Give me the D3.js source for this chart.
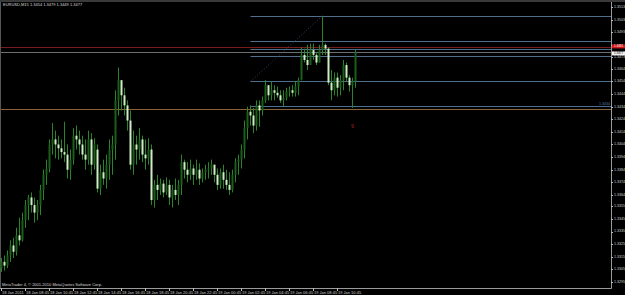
<!DOCTYPE html>
<html><head><meta charset="utf-8">
<script src="https://cdn.jsdelivr.net/npm/d3@7"></script>
<style>html,body{margin:0;padding:0;background:#000;overflow:hidden}</style>
</head><body>
<svg id="c" width="625" height="295"></svg>
<script>
// ---- data (EURUSD M15, 18-19 Jan 2011) ----
const symbolTitle = "EURUSD,M15";
const timeLabels = ["18 Jan 2011","18 Jan 08:45","18 Jan 10:45","18 Jan 12:45","18 Jan 14:45","18 Jan 16:45","18 Jan 18:45","18 Jan 20:45","18 Jan 22:45","19 Jan 00:45","19 Jan 02:45","19 Jan 04:45","19 Jan 06:45","19 Jan 08:45","19 Jan 10:45"];
const timeLabelBars = [0,8,16,24,32,40,48,56,64,72,80,88,96,104,112];
const priceTicks = [1.3513,1.3503,1.3493,1.3483,1.3473,1.3464,1.3454,1.3444,1.3434,1.3424,1.3414,1.3404,1.3394,1.3384,1.3374,1.3364,1.3355,1.3345,1.3335,1.3325,1.3315,1.3305,1.3295];
const opens = [1.3306,1.3311,1.3308,1.3316,1.3324,1.3319,1.3332,1.3328,1.3344,1.3356,1.3362,1.3356,1.3350,1.3356,1.3368,1.3380,1.3385,1.3404,1.3408,1.3404,1.3401,1.3398,1.3396,1.3384,1.3392,1.3411,1.3408,1.3404,1.3396,1.3392,1.3408,1.3388,1.3400,1.3369,1.3382,1.3377,1.3388,1.3400,1.3404,1.3439,1.3455,1.3443,1.3435,1.3423,1.3388,1.3404,1.3400,1.3408,1.3396,1.3393,1.3400,1.3360,1.3372,1.3368,1.3373,1.3366,1.3372,1.3362,1.3368,1.3364,1.3372,1.3390,1.3384,1.3380,1.3385,1.3380,1.3384,1.3377,1.3382,1.3384,1.3385,1.3388,1.3380,1.3372,1.3382,1.3376,1.3372,1.3368,1.3380,1.3390,1.3392,1.3400,1.3417,1.3430,1.3427,1.3419,1.3435,1.3431,1.3439,1.3451,1.3443,1.3447,1.3445,1.3443,1.3439,1.3441,1.3446,1.3447,1.3445,1.3450,1.3455,1.3475,1.3471,1.3467,1.3479,1.3475,1.3469,1.3479,1.3483,1.3480,1.3453,1.3447,1.3457,1.3449,1.3455,1.3467,1.3457,1.3451,1.3454];
const highs = [1.3314,1.3316,1.3320,1.3328,1.3330,1.3338,1.3346,1.3350,1.3360,1.3364,1.3366,1.3362,1.3360,1.3372,1.3384,1.3392,1.3408,1.3421,1.3415,1.3411,1.3408,1.3422,1.3404,1.3400,1.3417,1.3419,1.3415,1.3411,1.3408,1.3415,1.3413,1.3409,1.3404,1.3388,1.3392,1.3396,1.3408,1.3411,1.3447,1.3465,1.3455,1.3449,1.3439,1.3431,1.3415,1.3411,1.3417,1.3411,1.3408,1.3409,1.3404,1.3376,1.3380,1.3377,1.3376,1.3378,1.3376,1.3372,1.3377,1.3376,1.3396,1.3392,1.3390,1.3392,1.3388,1.3392,1.3389,1.3385,1.3388,1.3390,1.3392,1.3388,1.3385,1.3385,1.3388,1.3384,1.3382,1.3384,1.3393,1.3396,1.3404,1.3423,1.3434,1.3435,1.3433,1.3439,1.3439,1.3442,1.3455,1.3451,1.3454,1.3451,1.3450,1.3447,1.3447,1.3449,1.3450,1.3451,1.3454,1.3457,1.3481,1.3480,1.3483,1.3484,1.3484,1.3477,1.3483,1.3506,1.3484,1.3481,1.3463,1.3461,1.3461,1.3459,1.3471,1.3469,1.3459,1.3457,1.3479];
const lows = [1.3303,1.3304,1.3306,1.3311,1.3314,1.3316,1.3324,1.3327,1.3338,1.3344,1.3350,1.3342,1.3344,1.3348,1.3360,1.3372,1.3382,1.3396,1.3393,1.3392,1.3393,1.3390,1.3377,1.3376,1.3388,1.3400,1.3396,1.3392,1.3384,1.3388,1.3380,1.3384,1.3366,1.3364,1.3372,1.3369,1.3376,1.3380,1.3392,1.3427,1.3431,1.3427,1.3415,1.3384,1.3380,1.3388,1.3392,1.3390,1.3384,1.3388,1.3356,1.3354,1.3360,1.3364,1.3362,1.3364,1.3356,1.3354,1.3360,1.3356,1.3364,1.3377,1.3374,1.3376,1.3372,1.3376,1.3372,1.3374,1.3376,1.3377,1.3380,1.3374,1.3368,1.3369,1.3369,1.3368,1.3364,1.3366,1.3374,1.3380,1.3385,1.3393,1.3408,1.3419,1.3413,1.3415,1.3418,1.3427,1.3437,1.3439,1.3439,1.3439,1.3441,1.3437,1.3434,1.3439,1.3442,1.3442,1.3442,1.3443,1.3455,1.3469,1.3463,1.3467,1.3471,1.3467,1.3469,1.3475,1.3475,1.3451,1.3439,1.3443,1.3442,1.3443,1.3447,1.3454,1.3446,1.3433,1.3449];
const closes = [1.3311,1.3308,1.3316,1.3324,1.3319,1.3332,1.3328,1.3344,1.3356,1.3362,1.3356,1.3350,1.3356,1.3368,1.3380,1.3385,1.3404,1.3408,1.3404,1.3401,1.3398,1.3396,1.3384,1.3392,1.3411,1.3408,1.3404,1.3396,1.3392,1.3408,1.3388,1.3404,1.3369,1.3382,1.3377,1.3388,1.3400,1.3404,1.3439,1.3455,1.3443,1.3435,1.3423,1.3388,1.3404,1.3400,1.3408,1.3396,1.3393,1.3400,1.3360,1.3372,1.3368,1.3373,1.3366,1.3372,1.3362,1.3368,1.3364,1.3372,1.3390,1.3384,1.3380,1.3385,1.3380,1.3384,1.3377,1.3382,1.3384,1.3385,1.3388,1.3380,1.3372,1.3382,1.3376,1.3372,1.3368,1.3380,1.3390,1.3392,1.3400,1.3417,1.3430,1.3427,1.3419,1.3435,1.3431,1.3439,1.3451,1.3443,1.3447,1.3445,1.3443,1.3439,1.3441,1.3446,1.3447,1.3445,1.3450,1.3455,1.3475,1.3471,1.3467,1.3479,1.3475,1.3469,1.3479,1.3483,1.3480,1.3453,1.3447,1.3457,1.3449,1.3455,1.3467,1.3457,1.3451,1.3454,1.3477];
const bidPrice = 1.3477;
const redLinePrice = 1.3481;
const orangeLinePrice = 1.3432;
const fibLevels = [0, 0.382, 0.5, 0.618, 1, 1.382];
const fibHigh = 1.3506, fibLow = 1.3454;
const fibStartBar = 83, fibEndBar = 107;
const markerBar = 117, markerPrice = 1.3418;

// ---- layout ----
const W = 625, H = 295;
const plotRight = 611, plotBottom = 288, plotTop = 2;
const svg = d3.select("#c");
const font = "'Liberation Sans', Arial, sans-serif";
const fs = 3.6, fsText = 4;
svg.append("rect").attr("width", W).attr("height", H).attr("fill", "#000");

const x = d3.scaleLinear().domain([0, 1]).range([1.5, 4.5]);
const y = d3.scaleLinear().domain([1.3295, 1.3513]).range([282, 7]);

// frame
svg.append("rect").attr("x", 0).attr("y", 0).attr("width", W).attr("height", 2).attr("fill", "#3a3a3a");
svg.append("line").attr("x1", 0.5).attr("x2", 0.5).attr("y1", plotTop).attr("y2", plotBottom).attr("stroke", "#555");
svg.append("line").attr("x1", plotRight + 0.5).attr("x2", plotRight + 0.5).attr("y1", plotTop).attr("y2", plotBottom + 0.5).attr("stroke", "#9a9a9a");
svg.append("line").attr("x1", 0).attr("x2", plotRight + 0.5).attr("y1", plotBottom + 0.5).attr("y2", plotBottom + 0.5).attr("stroke", "#9a9a9a");

// full-width horizontal lines
const hline = (p, col) => svg.append("line").attr("x1", 1).attr("x2", plotRight)
  .attr("y1", Math.round(y(p)) + 0.5).attr("y2", Math.round(y(p)) + 0.5).attr("stroke", col);
hline(redLinePrice, "#7a1c1c");
hline(bidPrice, "#6e6e6e");
hline(orangeLinePrice, "#8a6238");

// fibonacci
const fibPrice = l => fibHigh - l * (fibHigh - fibLow);
svg.append("g").selectAll("line").data(fibLevels).join("line")
  .attr("x1", x(fibStartBar)).attr("x2", plotRight)
  .attr("y1", d => Math.round(y(fibPrice(d))) + 0.5).attr("y2", d => Math.round(y(fibPrice(d))) + 0.5)
  .attr("stroke", "#4f6f8c");
svg.append("line").attr("x1", x(fibStartBar)).attr("y1", y(fibLow)).attr("x2", x(fibEndBar)).attr("y2", y(fibHigh))
  .attr("stroke", "#3c3c68").attr("stroke-dasharray", "1,2");
svg.append("text").attr("x", 610).attr("y", y(fibPrice(1.382)) - 1).attr("text-anchor", "end")
  .attr("font-family", font).attr("font-size", fs).attr("fill", "#4f7fb0").text(fibPrice(1.382).toFixed(4));

// candles
const bars = opens.map((o, i) => ({i, o, h: highs[i], l: lows[i], c: closes[i]}));
const g = svg.append("g");
g.selectAll("line").data(bars).join("line")
  .attr("x1", d => x(d.i)).attr("x2", d => x(d.i))
  .attr("y1", d => y(d.h)).attr("y2", d => y(d.l))
  .attr("stroke", "#2a852a").attr("stroke-width", 1);
g.selectAll("rect").data(bars).join("rect")
  .attr("x", d => x(d.i) - 1).attr("width", 2)
  .attr("y", d => y(Math.max(d.o, d.c)))
  .attr("height", d => Math.max(1, Math.abs(y(d.o) - y(d.c))))
  .attr("fill", d => d.c < d.o ? "#cdeec4" : "#1a5e1a");

// marker
svg.append("text").attr("x", x(markerBar)).attr("y", y(markerPrice)).attr("text-anchor", "middle")
  .attr("dominant-baseline", "middle").attr("font-family", font).attr("font-size", 5).attr("fill", "#b02020").text("9");

// right axis (labels hidden under the price tags, as in the terminal)
const tagYs = [y(redLinePrice), y(bidPrice)];
const ya = svg.append("g");
ya.selectAll("line").data(priceTicks).join("line")
  .attr("x1", plotRight).attr("x2", plotRight + 2)
  .attr("y1", d => Math.round(y(d)) + 0.5).attr("y2", d => Math.round(y(d)) + 0.5).attr("stroke", "#bbb");
ya.selectAll("text").data(priceTicks.filter(d => tagYs.every(t => Math.abs(y(d) - t) > 4))).join("text")
  .attr("x", plotRight + 3).attr("y", d => y(d)).attr("dominant-baseline", "middle")
  .attr("font-family", font).attr("font-size", fs).attr("fill", "#d0d0d0").text(d => d.toFixed(4));

// price labels
svg.append("rect").attr("x", plotRight + 1).attr("y", y(redLinePrice) - 3).attr("width", 14).attr("height", 4).attr("fill", "#d01818");
svg.append("text").attr("x", plotRight + 3).attr("y", y(redLinePrice) - 1.2).attr("dominant-baseline", "middle")
  .attr("font-family", font).attr("font-size", 3).attr("fill", "#fff").text(redLinePrice.toFixed(4));
svg.append("rect").attr("x", plotRight + 1).attr("y", y(bidPrice) - 1).attr("width", 14).attr("height", 4).attr("fill", "#f0f0f0");
svg.append("text").attr("x", plotRight + 3).attr("y", y(bidPrice) + 1.1).attr("dominant-baseline", "middle")
  .attr("font-family", font).attr("font-size", 3).attr("fill", "#000").text(bidPrice.toFixed(4));

// time axis
const xa = svg.append("g");
xa.selectAll("line").data(timeLabelBars).join("line")
  .attr("x1", d => Math.round(x(d)) - 0.5).attr("x2", d => Math.round(x(d)) - 0.5)
  .attr("y1", plotBottom).attr("y2", plotBottom + 3).attr("stroke", "#bbb");
xa.selectAll("text").data(timeLabelBars).join("text")
  .attr("x", d => x(d) + 0.5).attr("y", 293.5)
  .attr("font-family", font).attr("font-size", fsText).attr("fill", "#d0d0d0").text((d, k) => timeLabels[k]);

// title & copyright
const last = bars[bars.length - 1];
svg.append("text").attr("x", 3).attr("y", 6).attr("font-family", font).attr("font-size", fsText).attr("fill", "#d8d8d8")
  .text(symbolTitle + "  " + [last.o, last.h, last.l, last.c].map(v => v.toFixed(4)).join(" "));
svg.append("text").attr("x", 2).attr("y", 286).attr("font-family", font).attr("font-size", fsText).attr("fill", "#d8d8d8")
  .text("MetaTrader 4, © 2001-2010 MetaQuotes Software Corp.");
</script>
</body></html>
